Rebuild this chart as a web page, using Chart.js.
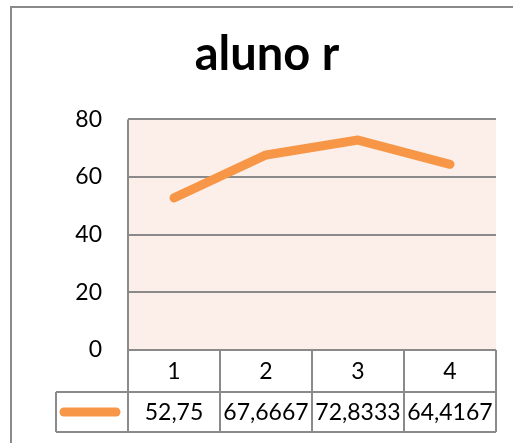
<!DOCTYPE html>
<html>
<head>
<meta charset="utf-8">
<script src="https://cdn.jsdelivr.net/npm/chart.js@4/dist/chart.umd.min.js"></script>
<style>
  html, body { margin: 0; padding: 0; background: #ffffff; }
  #wrap { width: 513px; height: 443px; position: relative; }
</style>
</head>
<body>
<div id="wrap"><canvas id="c" width="513" height="443"></canvas></div>
<script>
// Chart content
const chartTitle = 'aluno r';
const categories = ['1', '2', '3', '4'];
const values = [52.75, 67.6667, 72.8333, 64.4167];
const yTicks = [0, 20, 40, 60, 80];

const LINE_COLOR = '#F79646';
const GRID_COLOR = '#8a8a8a';
const PLOT_BG = '#FCEEE9';
const FONT = 'Lato, "Open Sans", sans-serif';
const TEXT_SIZE = 23;

const fmt = v => v.toLocaleString('pt-BR', { maximumFractionDigits: 4 });

// Table height below the plot: header row + value row
const HEADER_H = 42;
const ROW_H = 40;
const LEGEND_LEFT = 56;

const framePlugin = {
  id: 'frame',
  beforeDraw(chart) {
    const { ctx, chartArea: a } = chart;
    ctx.save();
    ctx.fillStyle = PLOT_BG;
    ctx.fillRect(a.left, a.top, a.right - a.left, a.bottom - a.top);
    // outer chart border
    ctx.strokeStyle = GRID_COLOR;
    ctx.lineWidth = 2;
    ctx.beginPath();
    ctx.moveTo(11, chart.height + 2);
    ctx.lineTo(11, 7);
    ctx.lineTo(chart.width + 2, 7);
    ctx.stroke();
    ctx.restore();
  },
  afterDraw(chart) {
    const { ctx, chartArea: a } = chart;
    const xs = chart.scales.x;
    const centers = categories.map((_, i) => xs.getPixelForValue(i));
    const bounds = [a.left];
    for (let i = 0; i < centers.length - 1; i++) bounds.push((centers[i] + centers[i + 1]) / 2);
    bounds.push(a.right);
    const top = a.bottom;
    const mid = top + HEADER_H;
    const bot = mid + ROW_H;

    ctx.save();
    ctx.strokeStyle = GRID_COLOR;
    ctx.lineWidth = 2;
    ctx.beginPath();
    // horizontal rules
    ctx.moveTo(a.left, top); ctx.lineTo(a.right, top);
    ctx.moveTo(LEGEND_LEFT, mid); ctx.lineTo(a.right, mid);
    ctx.moveTo(LEGEND_LEFT, bot); ctx.lineTo(a.right, bot);
    // vertical rules
    ctx.moveTo(a.left, a.top); ctx.lineTo(a.left, bot);
    bounds.slice(1).forEach(b => { ctx.moveTo(b, top); ctx.lineTo(b, bot); });
    ctx.moveTo(LEGEND_LEFT, mid); ctx.lineTo(LEGEND_LEFT, bot);
    ctx.stroke();

    // text
    ctx.fillStyle = '#000';
    ctx.font = TEXT_SIZE + 'px ' + FONT;
    ctx.textAlign = 'center';
    ctx.textBaseline = 'middle';
    categories.forEach((c, i) => ctx.fillText(c, centers[i], top + HEADER_H / 2 + 1));
    values.forEach((v, i) => ctx.fillText(fmt(v), centers[i], mid + ROW_H / 2 + 1));

    // legend key
    const ds = chart.data.datasets[0];
    ctx.strokeStyle = ds.borderColor;
    ctx.lineWidth = ds.borderWidth;
    ctx.lineCap = 'round';
    ctx.beginPath();
    ctx.moveTo(LEGEND_LEFT + 8, mid + ROW_H / 2);
    ctx.lineTo(a.left - 12, mid + ROW_H / 2);
    ctx.stroke();
    ctx.restore();
  }
};

new Chart(document.getElementById('c'), {
  type: 'line',
  data: {
    labels: categories,
    datasets: [{
      label: chartTitle,
      data: values,
      borderColor: LINE_COLOR,
      backgroundColor: LINE_COLOR,
      borderWidth: 9,
      borderCapStyle: 'round',
      borderJoinStyle: 'round',
      pointRadius: 0,
      tension: 0,
      fill: false
    }]
  },
  options: {
    responsive: false,
    animation: false,
    layout: { padding: { left: 38, right: 17, top: 0, bottom: 0 } },
    plugins: {
      legend: { display: false },
      tooltip: { enabled: false },
      title: {
        display: true,
        text: chartTitle,
        color: '#000',
        font: { family: FONT, size: 47, weight: 'bold' },
        padding: { top: 27, bottom: 36 }
      }
    },
    scales: {
      x: {
        type: 'category',
        offset: true,
        grid: { display: false, drawTicks: false },
        border: { display: false },
        ticks: { display: false },
        afterFit(s) { s.height = 93; }
      },
      y: {
        min: 0,
        max: 80,
        afterBuildTicks(s) { s.ticks = yTicks.map(v => ({ value: v })); },
        grid: { color: GRID_COLOR, lineWidth: 2, drawTicks: false },
        border: { display: false },
        ticks: {
          color: '#000',
          font: { family: FONT, size: TEXT_SIZE },
          padding: 26
        },
        afterFit(s) { s.width = 90; }
      }
    }
  },
  plugins: [framePlugin]
});
</script>
</body>
</html>
